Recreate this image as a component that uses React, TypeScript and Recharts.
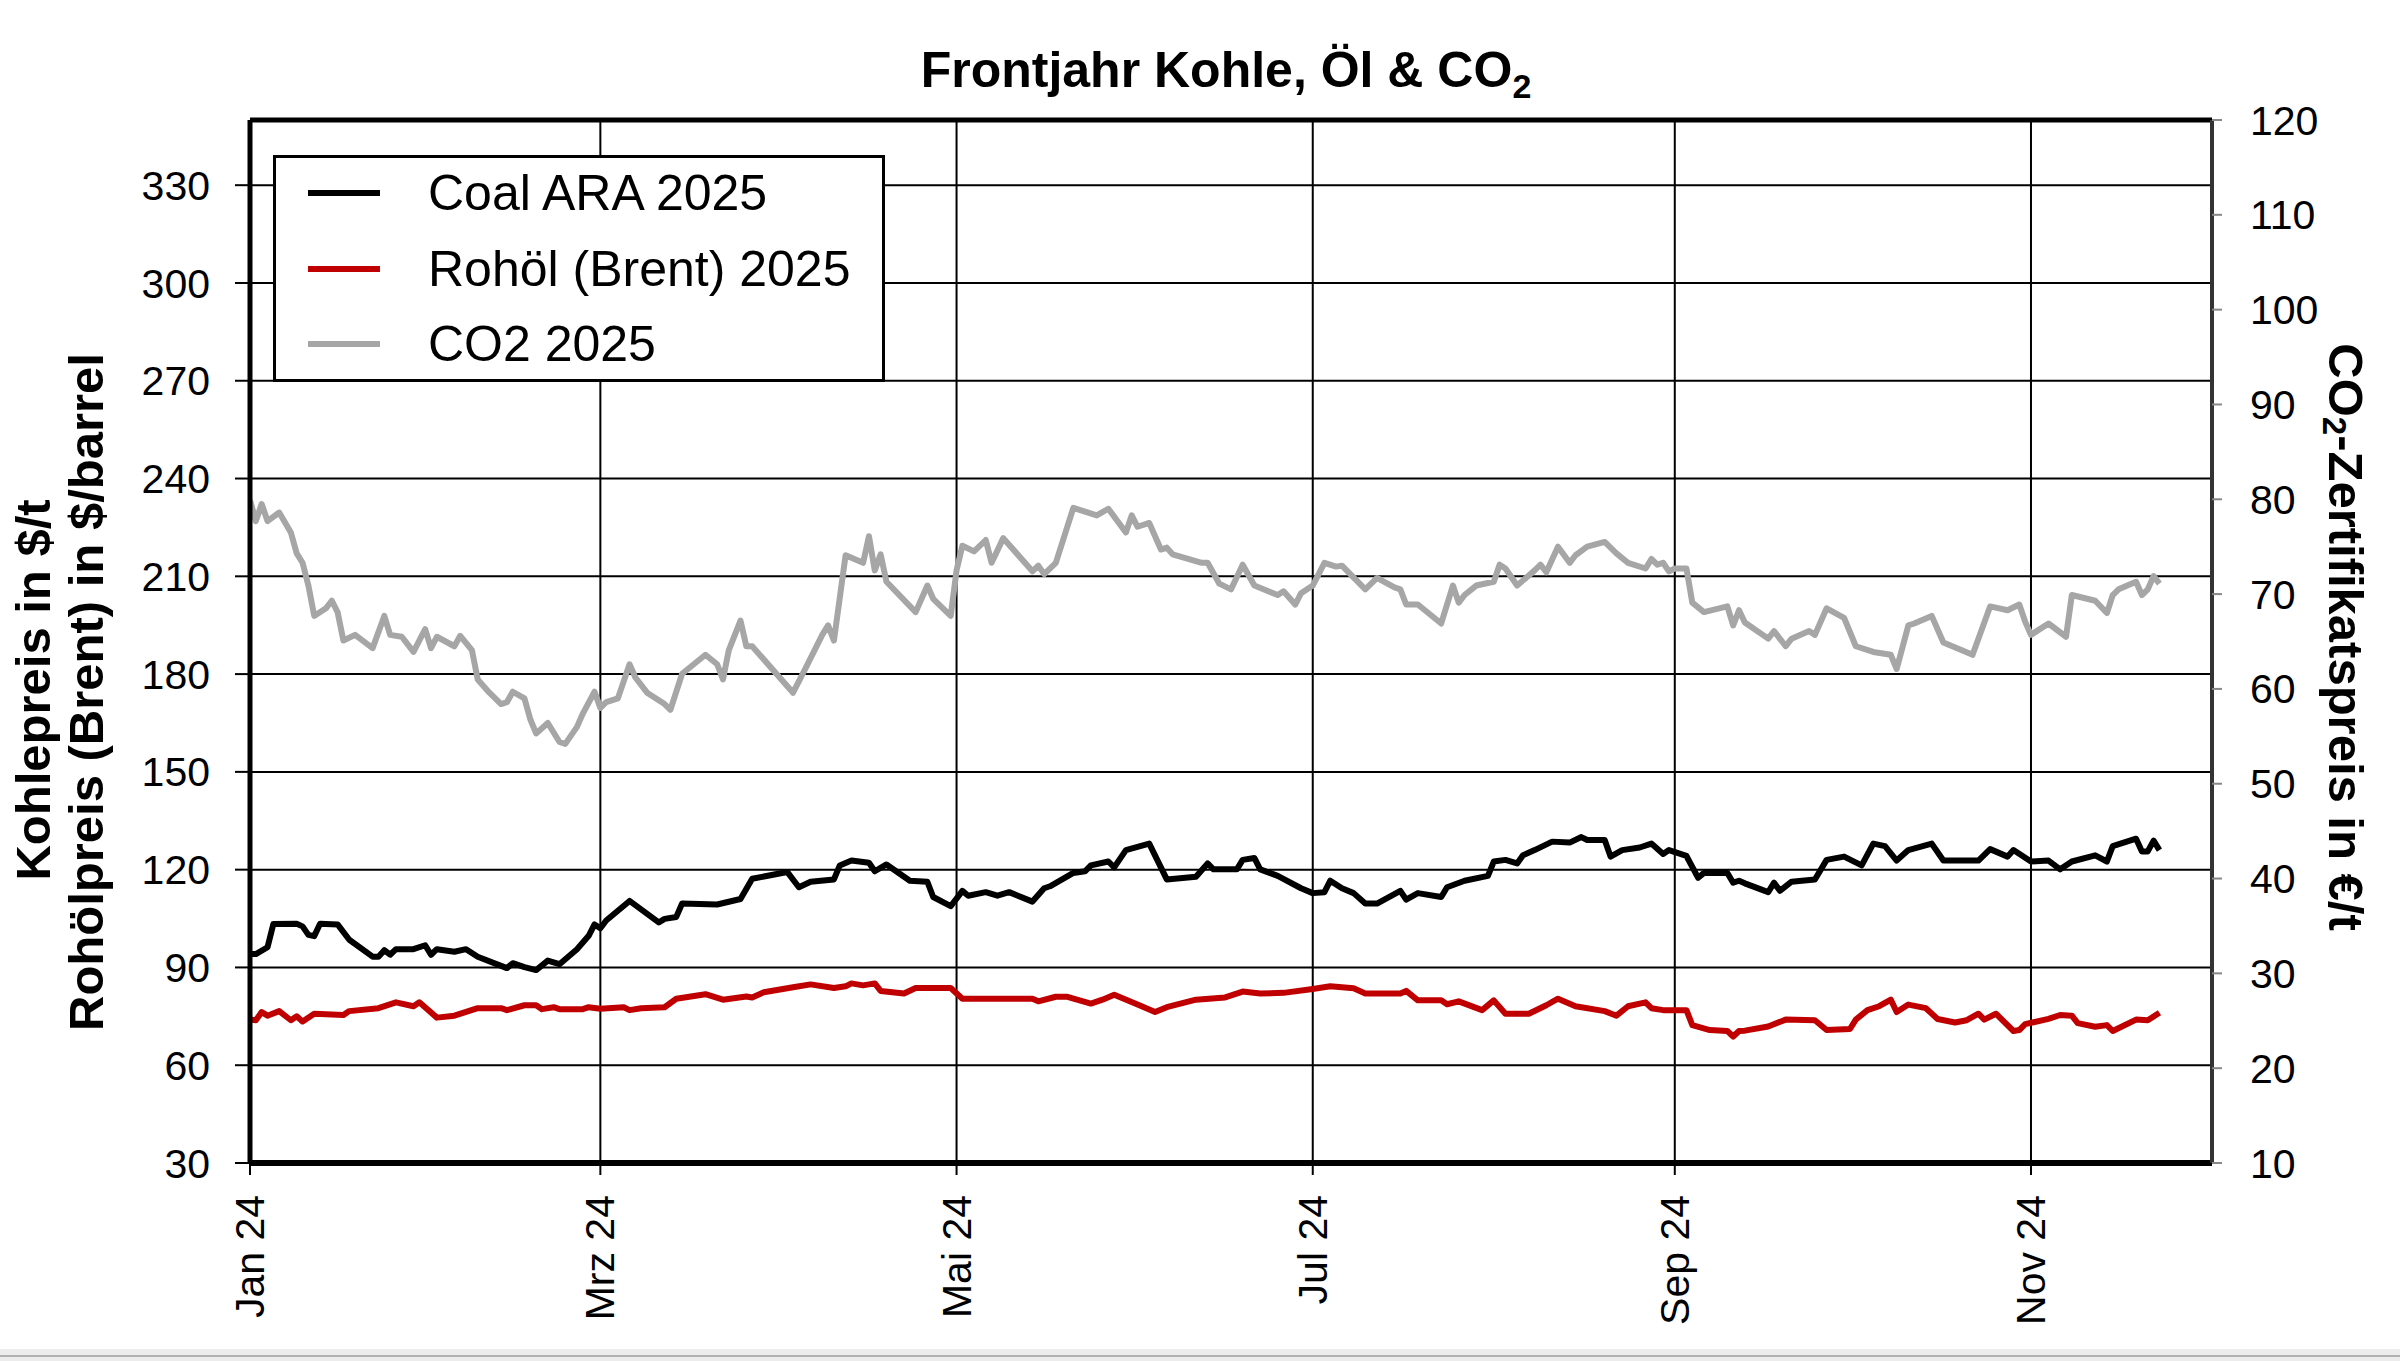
import React from 'react';
import { LineChart, Line, XAxis, YAxis, CartesianGrid, ReferenceLine, Legend } from 'recharts';

// x = Tage seit 1. Jan 2024
const xTickDays = [0, 60, 121, 182, 244, 305];
const xTickLabels = ['Jan 24', 'Mrz 24', 'Mai 24', 'Jul 24', 'Sep 24', 'Nov 24'];
const leftTicks = [30, 60, 90, 120, 150, 180, 210, 240, 270, 300, 330];
const rightTicks = [10, 20, 30, 40, 50, 60, 70, 80, 90, 100, 110, 120];

const coalSeries: [number, number][] = [
  [0, 94.1], [1, 94.1], [3, 96.2], [4, 103.3], [8, 103.4], [9, 102.6], [10, 100.0], [11, 99.6], [12, 103.4], [15, 103.2],
  [17, 98.5], [21, 93.3], [22, 93.3], [23, 95.3], [24, 93.9], [25, 95.6], [28, 95.6], [30, 96.8], [31, 93.9],
  [32, 95.6], [35, 94.8], [37, 95.6], [39, 93.3], [44, 89.8], [45, 91.3], [47, 90.1], [49, 89.2], [51, 92.1],
  [53, 91.0], [56, 95.6], [58, 99.7], [59, 103.2], [60, 102.0], [61, 104.4], [65, 110.4], [70, 103.8],
  [71, 104.9], [73, 105.5], [74, 109.6], [80, 109.3], [84, 111.0], [86, 117.2], [92, 119.3], [94, 114.6],
  [96, 116.3], [100, 117.0], [101, 121.3], [103, 122.8], [106, 122.1], [107, 119.5], [109, 121.6],
  [113, 116.6], [116, 116.3], [117, 111.6], [120, 108.8], [121, 111.1], [122, 113.5], [123, 112.0],
  [126, 113.1], [128, 112.0], [130, 113.1], [134, 110.2], [136, 114.3], [137, 114.9], [141, 119.0],
  [143, 119.5], [144, 121.3], [147, 122.5], [148, 120.7], [150, 126.0], [154, 128.0], [157, 117.0],
  [162, 117.8], [164, 121.9], [165, 120.1], [169, 120.1], [170, 123.0], [172, 123.6], [173, 120.1],
  [176, 118.1], [180, 114.3], [182, 112.8], [184, 113.1], [185, 116.6], [187, 114.3], [189, 112.8],
  [191, 109.6], [193, 109.6], [197, 113.5], [198, 110.8], [200, 112.8], [204, 111.6], [205, 114.6],
  [208, 116.6], [212, 118.1], [213, 122.5], [215, 123.0], [217, 121.9], [218, 124.4], [220, 126.0],
  [223, 128.6], [226, 128.3], [228, 130.0], [229, 129.1], [232, 129.1], [233, 124.0], [235, 126.0],
  [238, 126.8], [240, 128.0], [242, 124.8], [243, 126.0], [246, 124.2], [248, 117.5], [249, 119.0],
  [253, 119.0], [254, 116.0], [255, 116.6], [256, 115.8], [260, 113.1], [261, 116.0], [262, 113.5],
  [264, 116.3], [268, 117.0], [270, 123.0], [273, 124.0], [276, 121.3], [278, 128.0], [280, 127.2],
  [282, 122.8], [284, 126.0], [288, 128.0], [290, 122.8], [296, 122.8], [298, 126.3], [301, 124.0],
  [302, 126.0], [305, 122.5], [308, 122.8], [310, 120.1], [312, 122.5], [316, 124.4], [318, 122.5],
  [319, 127.2], [323, 129.5], [324, 125.6], [325, 125.6], [326, 128.9], [327, 126.0],
];

const oilSeries: [number, number][] = [
  [0, 74.0], [1, 73.8], [2, 76.3], [3, 75.2], [5, 76.6], [7, 73.8], [8, 75.0], [9, 73.4], [11, 75.8],
  [16, 75.4], [17, 76.6], [22, 77.5], [25, 79.3], [28, 78.1], [29, 79.3], [32, 74.6], [35, 75.2],
  [39, 77.5], [43, 77.5], [44, 76.9], [47, 78.4], [49, 78.4], [50, 77.2], [52, 77.8], [53, 77.2],
  [57, 77.2], [58, 77.8], [60, 77.3], [64, 77.8], [65, 76.9], [67, 77.5], [71, 77.8], [73, 80.4],
  [78, 81.8], [81, 80.1], [85, 81.1], [86, 80.8], [88, 82.4], [93, 83.9], [96, 84.8], [100, 83.7],
  [102, 84.2], [103, 85.1], [105, 84.5], [107, 85.1], [108, 82.8], [112, 82.0], [114, 83.7], [120, 83.7],
  [122, 80.4], [134, 80.4], [135, 79.6], [138, 81.0], [140, 81.0], [144, 78.9], [146, 80.1], [148, 81.6],
  [152, 78.6], [155, 76.3], [157, 77.8], [162, 80.1], [167, 80.8], [170, 82.6], [173, 82.0], [177, 82.2],
  [182, 83.4], [185, 84.2], [189, 83.6], [191, 82.0], [197, 82.0], [198, 82.8], [200, 79.9], [204, 79.9],
  [205, 78.7], [207, 79.6], [211, 76.9], [213, 79.9], [215, 75.8], [219, 75.8], [222, 78.4], [224, 80.4],
  [227, 78.1], [232, 76.6], [234, 75.2], [236, 78.1], [239, 79.3], [240, 77.5], [242, 76.9], [246, 76.9],
  [247, 72.3], [250, 70.8], [253, 70.5], [254, 68.8], [255, 70.5], [256, 70.6], [260, 71.9], [263, 74.0],
  [268, 73.8], [270, 70.8], [274, 71.1], [275, 74.0], [277, 76.9], [279, 78.1], [281, 80.1], [282, 76.3],
  [284, 78.6], [287, 77.5], [289, 74.2], [292, 73.1], [294, 73.8], [296, 75.8], [297, 74.0], [299, 75.8],
  [302, 70.5], [303, 70.8], [304, 72.6], [308, 74.2], [310, 75.4], [312, 75.2], [313, 72.9], [316, 71.8],
  [318, 72.3], [319, 70.5], [323, 74.0], [325, 73.8], [327, 76.1],
];

const co2Series: [number, number][] = [
  [0, 79.9], [1, 77.7], [2, 79.5], [3, 77.7], [5, 78.6], [7, 76.5], [8, 74.3], [9, 73.3], [10, 70.9],
  [11, 67.7], [13, 68.5], [14, 69.3], [15, 68.1], [16, 65.1], [18, 65.7], [21, 64.3], [23, 67.7], [24, 65.7],
  [26, 65.5], [28, 63.9], [30, 66.3], [31, 64.3], [32, 65.5], [35, 64.5], [36, 65.6], [38, 64.1], [39, 61.0],
  [41, 59.6], [43, 58.4], [44, 58.6], [45, 59.7], [47, 59.0], [48, 56.8], [49, 55.3], [51, 56.4], [53, 54.4],
  [54, 54.2], [56, 56.0], [57, 57.4], [59, 59.7], [60, 58.0], [61, 58.6], [63, 59.0], [65, 62.6], [66, 61.2],
  [68, 59.6], [71, 58.4], [72, 57.8], [74, 61.6], [76, 62.6], [78, 63.6], [80, 62.6], [81, 61.0], [82, 64.1],
  [84, 67.2], [85, 64.5], [86, 64.5], [93, 59.6], [95, 62.0], [98, 65.7], [99, 66.7], [100, 65.1], [102, 74.1],
  [105, 73.3], [106, 76.1], [107, 72.5], [108, 74.2], [109, 71.3], [114, 68.1], [116, 70.9], [117, 69.5],
  [120, 67.7], [121, 72.5], [122, 75.1], [124, 74.5], [126, 75.7], [127, 73.3], [129, 75.9], [134, 72.4],
  [135, 73.0], [136, 72.1], [138, 73.3], [141, 79.1], [145, 78.3], [147, 79.0], [150, 76.5], [151, 78.3],
  [152, 77.1], [154, 77.5], [156, 74.7], [157, 74.9], [158, 74.2], [163, 73.3], [164, 73.3], [166, 71.1],
  [168, 70.5], [170, 73.1], [172, 70.9], [176, 69.9], [177, 70.3], [179, 68.9], [180, 70.1], [182, 70.9],
  [184, 73.3], [186, 72.9], [187, 73.0], [191, 70.5], [193, 71.7], [196, 70.7], [197, 70.5], [198, 68.9],
  [200, 68.9], [204, 66.9], [206, 70.9], [207, 69.1], [208, 69.9], [210, 70.9], [213, 71.3], [214, 73.1],
  [215, 72.7], [217, 70.9], [220, 72.5], [221, 73.1], [222, 72.3], [224, 75.0], [226, 73.3], [227, 74.1],
  [229, 75.0], [232, 75.5], [234, 74.3], [236, 73.3], [239, 72.7], [240, 73.7], [241, 73.1], [242, 73.3],
  [243, 72.4], [244, 72.7], [246, 72.7], [247, 69.1], [249, 68.1], [253, 68.7], [254, 66.7], [255, 68.3],
  [256, 67.0], [260, 65.3], [261, 66.1], [263, 64.5], [264, 65.3], [267, 66.1], [268, 65.7], [270, 68.5],
  [273, 67.5], [275, 64.5], [278, 63.9], [281, 63.6], [282, 62.1], [284, 66.7], [285, 66.9], [288, 67.7],
  [290, 64.9], [295, 63.6], [298, 68.7], [301, 68.3], [303, 68.9], [304, 67.1], [305, 65.7], [308, 66.9],
  [311, 65.5], [312, 69.9], [316, 69.3], [318, 68.0], [319, 69.9], [320, 70.5], [323, 71.3], [324, 69.9],
  [325, 70.5], [326, 71.9], [327, 71.1],
];

const FONT = "'Liberation Sans', Arial, Helvetica, sans-serif";

const toRows = (s: [number, number][]) => s.map(([d, v]) => ({ d, v }));

const series = [
  { key: 'coal', name: 'Coal ARA 2025', color: '#000000', axis: 'left', data: toRows(coalSeries) },
  { key: 'oil', name: 'Rohöl (Brent) 2025', color: '#c00000', axis: 'left', data: toRows(oilSeries) },
  { key: 'co2', name: 'CO2 2025', color: '#a6a6a6', axis: 'right', data: toRows(co2Series) },
];

const tickLabel = (d: number) => {
  const i = xTickDays.indexOf(d);
  return i >= 0 ? xTickLabels[i] : '';
};

function XTick(props: any) {
  const { x, y, payload } = props;
  return (
    <text
      x={x}
      y={y}
      transform={`rotate(-90 ${x} ${y})`}
      textAnchor="end"
      dominantBaseline="central"
      fontSize={41}
      fontFamily={FONT}
      fill="#000"
    >
      {tickLabel(payload.value)}
    </text>
  );
}

function LeftTitle() {
  return (
    <g fontFamily={FONT} fontWeight="bold" fontSize={49} fill="#000">
      <text transform="translate(33,690) rotate(-90)" textAnchor="middle" dominantBaseline="central">
        Kohlepreis in $/t
      </text>
      <text transform="translate(86,692) rotate(-90)" textAnchor="middle" dominantBaseline="central">
        Rohölpreis (Brent) in $/barrel
      </text>
    </g>
  );
}

function RightTitle() {
  return (
    <g fontFamily={FONT} fontWeight="bold" fontSize={49} fill="#000">
      <text transform="translate(2346,637) rotate(90)" textAnchor="middle" dominantBaseline="central">
        CO
        <tspan dy={11} fontSize={33}>2</tspan>
        <tspan dy={-11}>-Zertifikatspreis in €/t</tspan>
      </text>
    </g>
  );
}

function LegendBox() {
  return (
    <div
      style={{
        position: 'relative',
        width: 612,
        height: 227,
        boxSizing: 'border-box',
        border: '3px solid #000',
        background: '#fff',
      }}
    >
      {series.map((s, i) => (
        <div
          key={s.key}
          style={{
            position: 'absolute',
            left: 32,
            top: 35 + i * 75.5 - 30,
            height: 60,
            display: 'flex',
            alignItems: 'center',
            whiteSpace: 'nowrap',
          }}
        >
          <div style={{ width: 72, height: 6, background: s.color }} />
          <span style={{ marginLeft: 48, fontSize: 50, fontFamily: FONT, color: '#000', lineHeight: '60px' }}>
            {s.name}
          </span>
        </div>
      ))}
    </div>
  );
}

export default function App() {
  return (
    <div style={{ position: 'absolute', left: 0, top: 0, width: 2400, height: 1361, background: '#fff', overflow: 'hidden' }}>
      <div
        style={{
          position: 'absolute',
          left: 0,
          top: 45,
          width: 2452,
          textAlign: 'center',
          fontFamily: FONT,
          fontWeight: 'bold',
          fontSize: 50,
          lineHeight: '50px',
          color: '#000',
          whiteSpace: 'nowrap',
        }}
      >
        Frontjahr Kohle, Öl &amp; CO<span style={{ fontSize: 34, position: 'relative', top: 11 }}>2</span>
      </div>
      <LineChart width={2400} height={1361} margin={{ top: 120, right: 0, bottom: 0, left: 0 }}>
        <CartesianGrid yAxisId="left" stroke="#000" strokeWidth={2} horizontal vertical />
        <XAxis
          dataKey="d"
          type="number"
          domain={[0, 336]}
          ticks={xTickDays}
          interval={0}
          height={198}
          axisLine={{ stroke: '#000', strokeWidth: 6 }}
          tickLine={{ stroke: '#000', strokeWidth: 2 }}
          tickSize={12}
          tickMargin={20}
          tick={<XTick />}
          allowDataOverflow
        />
        <YAxis
          yAxisId="left"
          orientation="left"
          type="number"
          domain={[30, 350]}
          ticks={leftTicks}
          interval={0}
          width={250}
          axisLine={{ stroke: '#000', strokeWidth: 5 }}
          tickLine={{ stroke: '#000', strokeWidth: 2 }}
          tickSize={15}
          tickMargin={25}
          tick={{ fontSize: 41, fontFamily: FONT, fill: '#000' }}
          label={<LeftTitle />}
          allowDataOverflow
        />
        <YAxis
          yAxisId="right"
          orientation="right"
          type="number"
          domain={[10, 120]}
          ticks={rightTicks}
          interval={0}
          width={188}
          axisLine={{ stroke: '#333', strokeWidth: 4 }}
          tickLine={{ stroke: '#888', strokeWidth: 2 }}
          tickSize={10}
          tickMargin={28}
          tick={{ fontSize: 41, fontFamily: FONT, fill: '#000' }}
          label={<RightTitle />}
          allowDataOverflow
        />
        <ReferenceLine yAxisId="left" y={350} stroke="#000" strokeWidth={5} />
        {series.map((s) => (
          <Line
            key={s.key}
            data={s.data}
            dataKey="v"
            name={s.name}
            yAxisId={s.axis}
            type="linear"
            stroke={s.color}
            strokeWidth={6}
            strokeLinejoin="round"
            dot={false}
            activeDot={false}
            isAnimationActive={false}
          />
        ))}
        <Legend
          layout="vertical"
          align="center"
          verticalAlign="middle"
          content={<LegendBox />}
          wrapperStyle={{ position: 'absolute', left: 273, top: 155, width: 612, height: 227, margin: 0, padding: 0 }}
        />
      </LineChart>
      <div style={{ position: 'absolute', left: 0, top: 1349, width: 2400, height: 12, background: '#ececec' }}>
        <div style={{ position: 'absolute', left: 0, top: 6, width: 2400, height: 2, background: '#b0b0b0' }} />
      </div>
    </div>
  );
}
